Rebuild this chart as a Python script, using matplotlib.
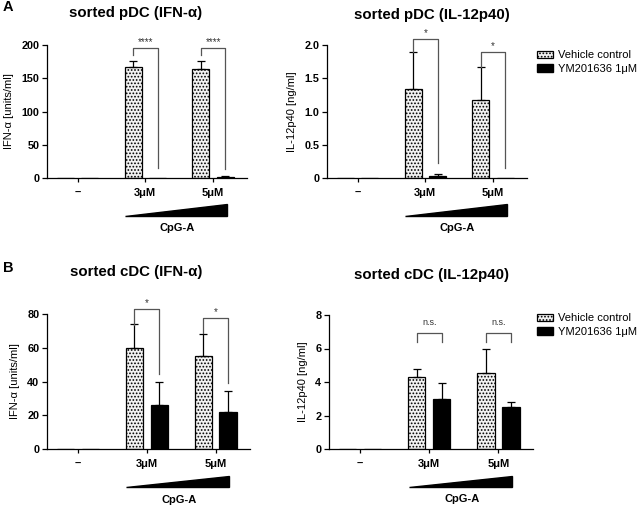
import matplotlib
matplotlib.use('Agg')
import matplotlib.pyplot as plt
from matplotlib.patches import Patch
from matplotlib.transforms import blended_transform_factory

plt.rcParams['font.family'] = ['Liberation Sans', 'DejaVu Sans']
plt.rcParams['hatch.linewidth'] = 0.8

# data
doses = ['\u2013', '3\u03bcM', '5\u03bcM']
series_names = ['Vehicle control', 'YM201636 1\u03bcM']

pdc_ifn_vehicle = [0, 167, 164]
pdc_ifn_vehicle_err = [0, 9, 12]
pdc_ifn_ym = [0, 0, 1.5]
pdc_ifn_ym_err = [0, 0, 0.8]

pdc_il12_vehicle = [0, 1.34, 1.18]
pdc_il12_vehicle_err = [0, 0.55, 0.49]
pdc_il12_ym = [0, 0.025, 0]
pdc_il12_ym_err = [0, 0.035, 0]

cdc_ifn_vehicle = [0, 60, 55]
cdc_ifn_vehicle_err = [0, 14, 13]
cdc_ifn_ym = [0, 26, 22]
cdc_ifn_ym_err = [0, 14, 12.5]

cdc_il12_vehicle = [0, 4.3, 4.55]
cdc_il12_vehicle_err = [0, 0.5, 1.42]
cdc_il12_ym = [0, 3.0, 2.5]
cdc_il12_ym_err = [0, 0.97, 0.32]

# brackets: (dose index, top, left leg end, right leg end, label)
pdc_ifn_brackets = [(1, 195, 185, 15, '****'), (2, 195, 185, 13, '****')]
pdc_il12_brackets = [(1, 2.09, 1.89, 0.23, '*'), (2, 1.89, 1.67, 0.15, '*')]
cdc_ifn_brackets = [(1, 83, 73.5, 44.4, '*'), (2, 77.6, 68.7, 39, '*')]
cdc_il12_brackets = [(1, 6.9, 6.4, 6.4, 'n.s.'), (2, 6.9, 6.4, 6.4, 'n.s.')]

BAR_W = 0.25
OFF = 0.18
VEH_FACE = '#f2f2f2'


def draw_panel(ax, vehicle, vehicle_err, ym, ym_err, brackets, ymax, yticks, yticklabels, ylabel):
    x = list(range(len(doses)))
    xv = [i - OFF for i in x]
    xy = [i + OFF for i in x]
    ax.bar(xv, vehicle, width=BAR_W, facecolor=VEH_FACE, edgecolor='black',
           hatch='.....', linewidth=0.9, zorder=2)
    ax.bar(xy, ym, width=BAR_W, color='black', edgecolor='black', linewidth=0.9, zorder=2)
    for xs, vals, errs in [(xv, vehicle, vehicle_err), (xy, ym, ym_err)]:
        for xi, v, e in zip(xs, vals, errs):
            if v == 0 and e == 0:
                continue
            ax.errorbar([xi], [v], yerr=[[0], [e]], fmt='none', ecolor='black',
                        elinewidth=0.9, capsize=2.8, capthick=0.9, zorder=3, clip_on=False)

    for idx, top, left_end, right_end, label in brackets:
        xl = idx - OFF
        xr = idx + OFF
        ax.plot([xl, xl, xr, xr], [left_end, top, top, right_end], color='#555555',
                lw=0.9, clip_on=False, zorder=4)
        if label == 'n.s.':
            ax.text(idx, top + ymax * 0.045, label, ha='center', va='bottom', fontsize=6.5,
                    color='#333333')
        else:
            ax.text(idx, top + ymax * 0.01, label, ha='center', va='bottom', fontsize=7,
                    color='#333333')

    ax.set_xlim(-0.45, 2.5)
    ax.set_ylim(0, ymax)
    ax.set_yticks(yticks)
    ax.set_yticklabels(yticklabels, fontweight='bold', fontsize=7.8)
    ax.set_xticks(x)
    ax.set_xticklabels(doses, fontweight='bold', fontsize=8)
    ax.set_ylabel(ylabel, fontsize=8, labelpad=5)
    for s in ['top', 'right']:
        ax.spines[s].set_visible(False)
    for s in ['left', 'bottom']:
        ax.spines[s].set_linewidth(0.9)
    ax.tick_params(axis='y', length=3.5, width=0.9, pad=2)
    ax.tick_params(axis='x', length=3, width=0.9, pad=4)

    # CpG-A wedge under the axis
    trans = blended_transform_factory(ax.transData, ax.transAxes)
    ax.fill([0.7, 2.2, 2.2], [-0.285, -0.285, -0.198], color='black', transform=trans,
            clip_on=False)
    ax.text(1.47, -0.375, 'CpG-A', transform=trans, ha='center', va='center',
            fontsize=8, fontweight='bold')


fig = plt.figure(figsize=(6.4, 5.07), dpi=100)
W, H = 640.0, 507.0


def add_axes(x0, x1, ybot, ytop):
    return fig.add_axes([x0 / W, 1 - ybot / H, (x1 - x0) / W, (ybot - ytop) / H])


ax1 = add_axes(47, 247, 178, 45)
ax2 = add_axes(327, 527, 178, 45)
ax3 = add_axes(47, 250, 449, 314)
ax4 = add_axes(329, 533, 449, 315)

draw_panel(ax1, pdc_ifn_vehicle, pdc_ifn_vehicle_err, pdc_ifn_ym, pdc_ifn_ym_err,
           pdc_ifn_brackets, 200, [0, 50, 100, 150, 200], ['0', '50', '100', '150', '200'],
           'IFN-\u03b1 [units/ml]')
draw_panel(ax2, pdc_il12_vehicle, pdc_il12_vehicle_err, pdc_il12_ym, pdc_il12_ym_err,
           pdc_il12_brackets, 2.0, [0, 0.5, 1.0, 1.5, 2.0], ['0', '0.5', '1.0', '1.5', '2.0'],
           'IL-12p40 [ng/ml]')
draw_panel(ax3, cdc_ifn_vehicle, cdc_ifn_vehicle_err, cdc_ifn_ym, cdc_ifn_ym_err,
           cdc_ifn_brackets, 80, [0, 20, 40, 60, 80], ['0', '20', '40', '60', '80'],
           'IFN-\u03b1 [units/ml]')
draw_panel(ax4, cdc_il12_vehicle, cdc_il12_vehicle_err, cdc_il12_ym, cdc_il12_ym_err,
           cdc_il12_brackets, 8, [0, 2, 4, 6, 8], ['0', '2', '4', '6', '8'],
           'IL-12p40 [ng/ml]')

title_kw = dict(ha='center', va='center', fontsize=10.8, fontweight='bold')
fig.text(136 / W, 1 - 13 / H, 'sorted pDC (IFN-\u03b1)', **title_kw)
fig.text(432 / W, 1 - 15 / H, 'sorted pDC (IL-12p40)', **title_kw)
fig.text(136 / W, 1 - 272 / H, 'sorted cDC (IFN-\u03b1)', **title_kw)
fig.text(432 / W, 1 - 275 / H, 'sorted cDC (IL-12p40)', **title_kw)
fig.text(8 / W, 1 - 7 / H, 'A', ha='center', va='center', fontsize=10.5, fontweight='bold')
fig.text(8 / W, 1 - 268 / H, 'B', ha='center', va='center', fontsize=10.5, fontweight='bold')

handles = [Patch(facecolor=VEH_FACE, edgecolor='black', hatch='.....', linewidth=0.9),
           Patch(facecolor='black', edgecolor='black')]
for ax, ytop in [(ax2, 50), (ax4, 313)]:
    ax.legend(handles, series_names, loc='upper left', bbox_to_anchor=(537 / W, 1 - ytop / H),
              bbox_transform=fig.transFigure, frameon=False, fontsize=8, handlelength=1.4,
              handleheight=0.6, handletextpad=0.5, labelspacing=0.35, borderpad=0,
              borderaxespad=0)

fig.savefig('out.png', dpi=100)
